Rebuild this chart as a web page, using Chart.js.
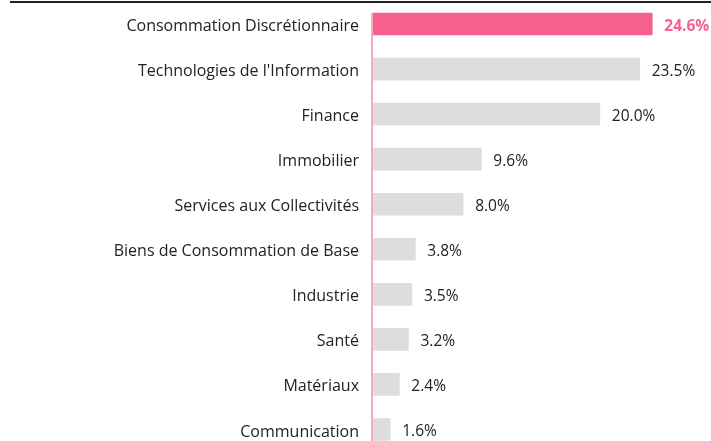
<!DOCTYPE html>
<html>
<head>
<meta charset="utf-8">
<script src="https://cdn.jsdelivr.net/npm/chart.js@4.4.0/dist/chart.umd.min.js"></script>
<style>
  html, body { margin: 0; padding: 0; background: #fff; overflow: hidden; }
  #wrap { position: relative; width: 711px; height: 441px; overflow: hidden; }
  #topline { position: absolute; left: 10px; right: 0; top: 1px; height: 2px; background: #222; z-index: 2; }
  #box { position: absolute; left: 0; top: 0; width: 711px; height: 452px; }
</style>
</head>
<body>
<div id="wrap">
  <div id="topline"></div>
  <div id="box"><canvas id="sectors"></canvas></div>
</div>
<script>
const sectors = [
  "Consommation Discrétionnaire",
  "Technologies de l'Information",
  "Finance",
  "Immobilier",
  "Services aux Collectivités",
  "Biens de Consommation de Base",
  "Industrie",
  "Santé",
  "Matériaux",
  "Communication",
];
const weights = [24.6, 23.5, 20.0, 9.6, 8.0, 3.8, 3.5, 3.2, 2.4, 1.6];

const pink = "#f7618e";
const grey = "#dddddd";

// axis line in light pink, starting at the top of the first bar
const axisLine = {
  id: "axisLine",
  afterDatasetsDraw(chart) {
    const ctx = chart.ctx;
    const bars = chart.getDatasetMeta(0).data;
    const x0 = chart.scales.x.getPixelForValue(0);
    const top = bars[0].y - bars[0].height / 2;
    ctx.save();
    ctx.strokeStyle = "#f6a9c3";
    ctx.lineWidth = 2;
    ctx.beginPath();
    ctx.moveTo(x0, top);
    ctx.lineTo(x0, chart.chartArea.bottom);
    ctx.stroke();
    ctx.restore();
  },
};

// nudge the category labels a little lower
const labelNudge = {
  id: "labelNudge",
  beforeDraw(chart) {
    const items = chart.scales.y.getLabelItems();
    if (items._nudged) return;
    items.forEach((it) => { it.options.translation[1] += 2.5; });
    items._nudged = true;
  },
};

// percentage after each bar
const valueLabels = {
  id: "valueLabels",
  afterDatasetsDraw(chart) {
    const ctx = chart.ctx;
    const bars = chart.getDatasetMeta(0).data;
    ctx.save();
    ctx.textBaseline = "middle";
    ctx.textAlign = "left";
    bars.forEach((bar, i) => {
      ctx.fillStyle = i === 0 ? pink : "#222";
      ctx.font = (i === 0 ? "bold " : "") + "15.5px 'Open Sans'";
      ctx.fillText(weights[i].toFixed(1) + "%", bar.x + 12, bar.y + 2.5);
    });
    ctx.restore();
  },
};

new Chart(document.getElementById("sectors"), {
  type: "bar",
  data: {
    labels: sectors,
    datasets: [{
      data: weights,
      backgroundColor: weights.map((v, i) => (i === 0 ? pink : grey)),
      barThickness: 22,
      borderWidth: 0,
    }],
  },
  options: {
    indexAxis: "y",
    responsive: true,
    maintainAspectRatio: false,
    animation: false,
    layout: { padding: { top: 1.5, right: 20, bottom: 0, left: 0 } },
    plugins: {
      legend: { display: false },
      tooltip: { enabled: false },
    },
    scales: {
      x: {
        display: false,
        min: 0,
        max: 28,
      },
      y: {
        afterFit(scale) {
          scale.width = 372;
          scale.paddingTop = 0;
          scale.paddingBottom = 0;
        },
        grid: { display: false, drawTicks: false },
        border: { display: false },
        ticks: {
          padding: 13,
          color: "#222",
          font: { family: "'Open Sans'", size: 16 },
        },
      },
    },
  },
  plugins: [axisLine, labelNudge, valueLabels],
});
</script>
</body>
</html>
